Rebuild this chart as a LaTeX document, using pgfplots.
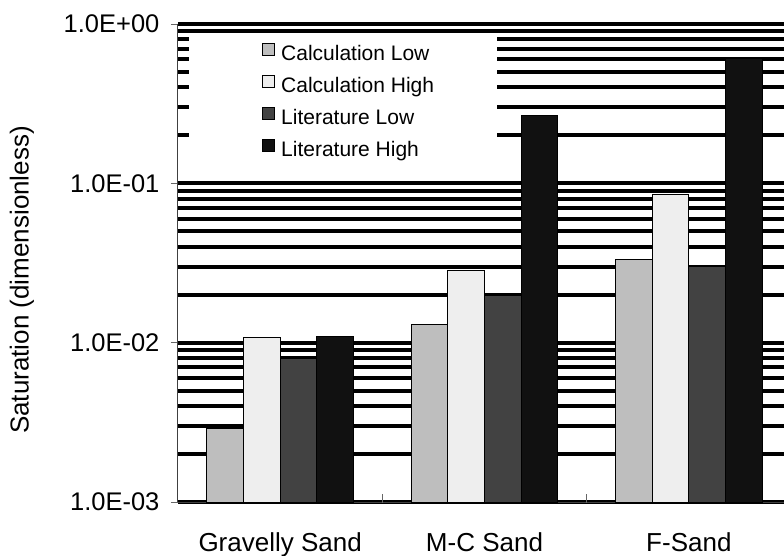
\documentclass[border=0pt]{standalone}
\usepackage{fontspec}
\setmainfont{Liberation Sans}
\usepackage{pgfplots}
\pgfplotsset{compat=1.18}
\definecolor{cl}{HTML}{BEBEBE}
\definecolor{ch}{HTML}{EEEEEE}
\definecolor{ll}{HTML}{424242}
\definecolor{lh}{HTML}{111111}
\newcommand\ls{\vrule width0pt height15bp depth5bp\relax}
\pgfplotsset{sqlegend/.style={legend image code/.code={\draw[##1,/tikz/.cd,draw=black,line width=1bp] (0bp,-2bp) rectangle (12bp,10bp);}}}
\begin{document}
\begin{tikzpicture}
\begin{axis}[
  scale only axis, width=613bp, height=478bp,
  xmin=0, xmax=3, ymin=1e-3, ymax=1, ymode=log, log origin=infty,
  axis lines*=left,
  axis line style={black!75, line width=1bp},
  ybar=0pt, bar width=36.7bp,
  xtick=\empty,
  extra x ticks={0.5,1.5,2.5},
  extra x tick labels={Gravelly Sand,M-C Sand,F-Sand},
  extra x tick style={major tick length=0pt, xticklabel style={anchor=base, yshift=-49bp, font=\fontsize{26bp}{30bp}\selectfont}},
  ytick={1e-3,1e-2,1e-1,1},
  yticklabels={1.0E-03,1.0E-02,1.0E-01,1.0E+00},
  tick align=outside, major tick length=7bp, minor tick length=0pt,
  tick style={black!60, line width=1bp},
  ymajorgrids, yminorgrids,
  major grid style={black, line width=4bp},
  minor grid style={black, line width=4bp},
  ticklabel style={font=\fontsize{25.5bp}{30bp}\selectfont, inner sep=0pt},
  yticklabel style={anchor=east, xshift=-11.4bp},
  ylabel={Saturation (dimensionless)},
  ylabel style={at={(axis description cs:-0.2545,0.4644)}, anchor=center, font=\fontsize{26bp}{30bp}\selectfont, inner sep=0pt},
  legend style={at={(0.137,0.960)}, anchor=north west, draw=none, fill=none,
    inner sep=0pt, row sep=13bp, column sep=6bp,
    font=\fontsize{21bp}{24bp}\selectfont, nodes={inner sep=0pt}},
  legend cell align=left,
]
\fill[white] (rel axis cs:0.018,0.976) rectangle (rel axis cs:0.5204,0.6736);
\addplot[fill=cl, draw=black, line width=1bp, sqlegend] coordinates {(0.5,0.0029) (1.5,0.013) (2.5,0.0335)};
\addplot[fill=ch, draw=black, line width=1bp, sqlegend] coordinates {(0.5,0.0108) (1.5,0.0285) (2.5,0.0853)};
\addplot[fill=ll, draw=black, line width=1bp, sqlegend] coordinates {(0.5,0.0080) (1.5,0.0198) (2.5,0.0299)};
\addplot[fill=lh, draw=black, line width=1bp, sqlegend] coordinates {(0.5,0.0110) (1.5,0.267) (2.5,0.605)};
\legend{\ls Calculation Low,\ls Calculation High,\ls Literature Low,\ls Literature High}
\draw[black!60, line width=1bp] ([yshift=-9.5bp]axis cs:0,0.001) -- (axis cs:0,0.001);
\draw[black!60, line width=1bp] ([yshift=-8.5bp]axis cs:1,0.001) -- ([yshift=8.5bp]axis cs:1,0.001);
\draw[black!60, line width=1bp] ([yshift=-8.5bp]axis cs:2,0.001) -- ([yshift=8.5bp]axis cs:2,0.001);
\end{axis}
\pgfresetboundingbox
\path (-178bp,-54bp) rectangle (606bp,502bp);
\end{tikzpicture}
\end{document}
